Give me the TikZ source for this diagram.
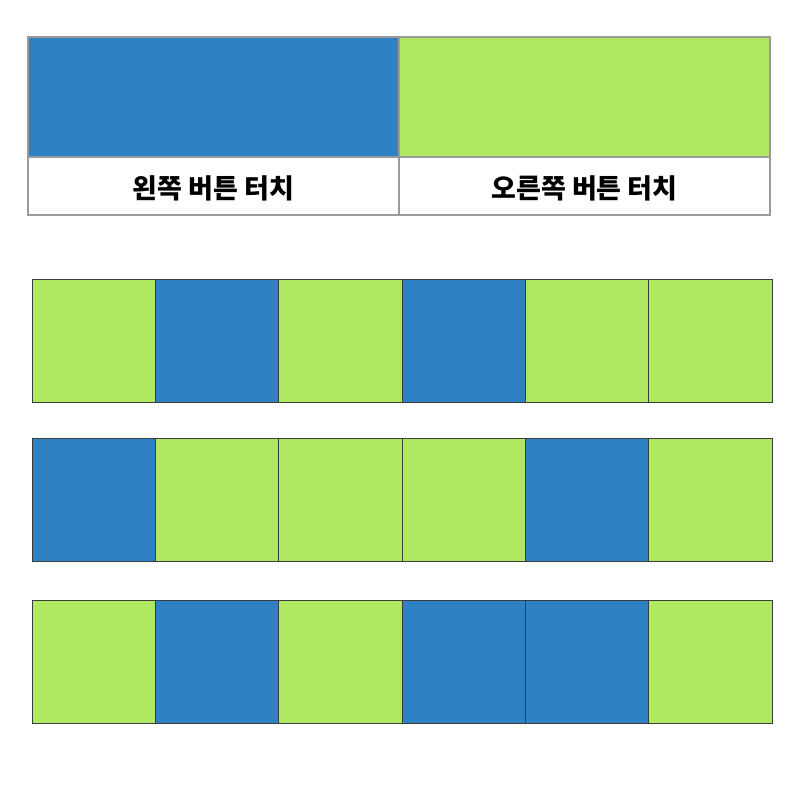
\documentclass[tikz,border=0pt]{standalone}
\usepackage{fontspec}
\newfontfamily\kr{Noto Sans CJK KR}
\definecolor{cblue}{HTML}{2E82C3}
\definecolor{cgreen}{HTML}{B1E862}
\definecolor{hgray}{HTML}{9A9A9A}
\definecolor{cline}{HTML}{3C3C3C}
\begin{document}
\begin{tikzpicture}[x=1pt,y=-1pt,
  hcell/.style={draw=hgray,line width=1.6pt,minimum width=371pt,minimum height=120pt,inner sep=0pt,outer sep=0pt,anchor=north west},
  hlab/.style={draw=hgray,line width=1.6pt,minimum width=371pt,minimum height=58pt,inner sep=0pt,outer sep=0pt,anchor=north west,text depth=0pt,font=\kr\bfseries\fontsize{27}{30}\selectfont},
  cell/.style={draw=cline,line width=0.9pt,minimum width=123.33pt,minimum height=123pt,inner sep=0pt,outer sep=0pt,anchor=north west},
  B/.style={cell,fill=cblue},
  G/.style={cell,fill=cgreen}]
\useasboundingbox (0,0) rectangle (800,800);
\fill[white] (0,0) rectangle (800,800);
% header
\node[hcell,fill=cblue] (hl) at (28,37) {};
\node[hcell,fill=cgreen] (hr) at (399,37) {};
\node[hlab] (tl) at (28,157) {\raisebox{-3pt}{왼쪽 버튼 터치}};
\node[hlab] (tr) at (399,157) {\raisebox{-3pt}{오른쪽 버튼 터치}};
% row 1
\node[G] (a1) at (32,279) {};
\node[B] (a2) at (155.33,279) {};
\node[G] (a3) at (278.67,279) {};
\node[B] (a4) at (402,279) {};
\node[G] (a5) at (525.33,279) {};
\node[G] (a6) at (648.67,279) {};
% row 2
\node[B] (b1) at (32,438) {};
\node[G] (b2) at (155.33,438) {};
\node[G] (b3) at (278.67,438) {};
\node[G] (b4) at (402,438) {};
\node[B] (b5) at (525.33,438) {};
\node[G] (b6) at (648.67,438) {};
% row 3
\node[G] (c1) at (32,600) {};
\node[B] (c2) at (155.33,600) {};
\node[G] (c3) at (278.67,600) {};
\node[B] (c4) at (402,600) {};
\node[B] (c5) at (525.33,600) {};
\node[G] (c6) at (648.67,600) {};
\end{tikzpicture}
\end{document}
